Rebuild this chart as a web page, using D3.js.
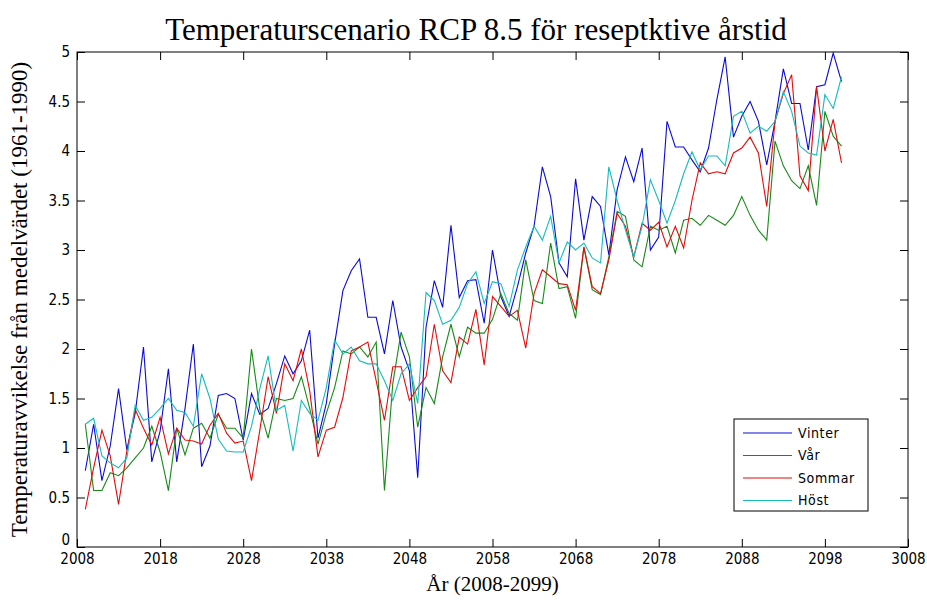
<!DOCTYPE html>
<html>
<head>
<meta charset="utf-8">
<script src="https://cdn.jsdelivr.net/npm/d3@7"></script>
<style>
  body { margin: 0; background: #fff; }
  svg { display: block; }
  .tick text, .legend text { font-family: "Liberation Sans Narrow", "DejaVu Sans Condensed", sans-serif; font-stretch: condensed; }
  .serif { font-family: "Liberation Serif", "Times New Roman", serif; }
</style>
</head>
<body>
<svg width="927" height="607"></svg>
<script>
// Data (one value per year, 2008-2099)

const years = d3.range(2008, 2100)

const vinter = [0.77, 1.24, 0.67, 1.02, 1.6, 0.98, 1.35, 2.02, 0.86, 1.17,
  1.8, 0.86, 1.4, 2.05, 0.81, 1.02, 1.53, 1.55, 1.5, 1.08,
  1.55, 1.34, 1.4, 1.65, 1.93, 1.75, 1.88, 2.19, 1.1, 1.45,
  2.05, 2.59, 2.79, 2.91, 2.32, 2.32, 1.95, 2.49, 2.02, 1.78,
  0.7, 2.22, 2.69, 2.42, 3.25, 2.52, 2.69, 2.7, 2.26, 3.0,
  2.53, 2.33, 2.63, 2.97, 3.24, 3.84, 3.54, 2.87, 2.73, 3.72,
  3.1, 3.54, 3.44, 2.95, 3.61, 3.94, 3.69, 4.03, 3.0, 3.13,
  4.3, 4.04, 4.04, 3.91, 3.79, 4.03, 4.52, 4.95, 4.14, 4.35,
  4.5, 4.3, 3.86, 4.3, 4.83, 4.48, 4.48, 4.01, 4.65, 4.67,
  4.99, 4.7]

const var_ = [1.24, 0.57, 0.57, 0.75, 0.72, 0.8, 0.9, 1.0, 1.22, 0.96,
  0.57, 1.2, 0.93, 1.2, 1.25, 1.1, 1.34, 1.2, 1.2, 1.1,
  2.0, 1.39, 1.1, 1.5, 1.48, 1.5, 1.72, 1.4, 1.04, 1.35,
  1.61, 1.98, 1.95, 2.02, 1.92, 2.07, 0.57, 1.65, 2.17, 1.92,
  1.21, 1.61, 1.45, 1.92, 2.25, 1.92, 2.22, 2.16, 2.16, 2.3,
  2.56, 2.36, 2.29, 2.9, 2.49, 2.46, 3.07, 2.61, 2.63, 2.31,
  3.03, 2.6, 2.55, 2.93, 3.39, 3.34, 2.9, 2.83, 3.24, 3.2,
  3.24, 2.97, 3.3, 3.32, 3.25, 3.35, 3.3, 3.25, 3.35, 3.54,
  3.35, 3.2, 3.1, 4.1, 3.85, 3.7, 3.62, 3.85, 3.45, 4.4,
  4.15, 4.05]

const sommar = [0.38, 0.8, 1.18, 0.92, 0.43, 0.97, 1.39, 1.2, 1.03, 1.31,
  0.94, 1.2, 1.08, 1.07, 1.04, 1.23, 1.35, 1.15, 1.05, 1.07,
  0.67, 1.18, 1.72, 1.35, 1.85, 1.68, 2.0, 1.58, 0.91, 1.18,
  1.21, 1.51, 1.98, 2.02, 2.07, 1.68, 1.28, 1.82, 1.82, 1.48,
  1.61, 1.72, 2.25, 1.78, 1.66, 2.12, 2.05, 2.4, 1.84, 2.53,
  2.43, 2.33, 2.39, 2.01, 2.56, 2.8, 2.73, 2.66, 2.65, 2.39,
  3.03, 2.63, 2.56, 2.9, 3.37, 3.24, 2.93, 3.27, 3.2, 3.28,
  3.03, 3.24, 3.02, 3.5, 3.88, 3.77, 3.79, 3.77, 3.98, 4.03,
  4.14, 3.98, 3.44, 4.3, 4.58, 4.77, 3.75, 3.6, 4.65, 4.0,
  4.32, 3.88]

const host = [1.24, 1.3, 0.92, 0.85, 0.8, 0.9, 1.43, 1.28, 1.31, 1.4,
  1.5, 1.38, 1.36, 1.22, 1.75, 1.5, 1.09, 0.97, 0.96, 0.96,
  1.22, 1.6, 1.93, 1.38, 1.43, 0.97, 1.48, 1.35, 1.28, 1.61,
  2.09, 1.95, 2.02, 1.88, 1.85, 1.85, 1.68, 1.48, 1.75, 1.85,
  1.45, 2.57, 2.49, 2.25, 2.29, 2.42, 2.66, 2.78, 2.46, 2.68,
  2.66, 2.43, 2.8, 3.03, 3.24, 3.1, 3.34, 2.87, 3.08, 3.0,
  3.07, 2.92, 2.87, 3.84, 3.5, 3.2, 2.93, 3.24, 3.71, 3.5,
  3.27, 3.5, 3.77, 3.99, 3.81, 3.95, 3.95, 3.85, 4.35, 4.4,
  4.18, 4.25, 4.2, 4.3, 4.6, 4.4, 4.05, 3.98, 3.96, 4.57,
  4.43, 4.75]

const seriesNames = ['Vinter', 'Vår', 'Sommar', 'Höst']
const seriesValues = [vinter, var_, sommar, host]
const seriesColors = ['#0a0ad8', '#178a17', '#e60b0b', '#14bcbc']

const xTickLabels = ['2008', '2018', '2028', '2038', '2048', '2058', '2068', '2078', '2088', '2098', '3008']
const yTicks = d3.range(0, 5.01, 0.5)

const title = 'Temperaturscenario RCP 8.5 för reseptktive årstid'
const xTitle = 'År (2008-2099)'
const yTitle = 'Temperaturavvikelse från medelvärdet (1961-1990)'

// Layout

const margin = {left: 77, right: 19, top: 52, bottom: 60}
const width = 927
const height = 607
const innerW = width - margin.left - margin.right
const innerH = height - margin.top - margin.bottom

const svg = d3.select('svg')

// x is the position index used by the plot (1..92), ticks every 10
const x = d3.scaleLinear().domain([0, 100]).range([margin.left, margin.left + innerW])
const y = d3.scaleLinear().domain([0, 5]).range([margin.top + innerH, margin.top])

const xTickValues = d3.range(0, 101, 10)

// Axes (MATLAB style: ticks inside, box on)

svg.append('g')
    .attr('transform', `translate(0, ${margin.top + innerH})`)
    .call(d3.axisBottom(x).tickValues(xTickValues).tickSizeInner(-8).tickSizeOuter(0).tickPadding(6)
      .tickFormat((d, i) => xTickLabels[i]))
    .call(g => g.selectAll('text').attr('font-size', 15).attr('fill', '#000'))

svg.append('g')
    .attr('transform', `translate(0, ${margin.top})`)
    .call(d3.axisTop(x).tickValues(xTickValues).tickSizeInner(-8).tickSizeOuter(0).tickFormat(''))

svg.append('g')
    .attr('transform', `translate(${margin.left}, 0)`)
    .call(d3.axisLeft(y).tickValues(yTicks).tickSizeInner(-8).tickSizeOuter(0).tickPadding(7)
      .tickFormat(d3.format('~g')))
    .call(g => g.selectAll('text').attr('font-size', 15).attr('fill', '#000'))
    // the "0" sits just above the first year label, as in the original
    .call(g => g.selectAll('.tick').filter(d => d === 0).select('text').attr('dy', '-0.15em'))

svg.append('g')
    .attr('transform', `translate(${margin.left + innerW}, 0)`)
    .call(d3.axisRight(y).tickValues(yTicks).tickSizeInner(-8).tickSizeOuter(0).tickFormat(''))

svg.selectAll('.domain').remove()
svg.selectAll('.tick line').attr('stroke', '#000')

svg.append('rect')
    .attr('x', margin.left)
    .attr('y', margin.top)
    .attr('width', innerW)
    .attr('height', innerH)
    .attr('fill', 'none')
    .attr('stroke', '#000')

// Lines

const line = d3.line()
    .x((d, i) => x(i + 1))
    .y(d => y(d))

svg.append('g').selectAll('path')
  .data(seriesValues)
  .join('path')
    .attr('d', line)
    .attr('fill', 'none')
    .attr('stroke', (d, i) => seriesColors[i])
    .attr('stroke-width', 1.1)

// Titles

svg.append('text')
    .attr('class', 'serif')
    .attr('x', 476)
    .attr('y', 40)
    .attr('text-anchor', 'middle')
    .attr('font-size', 31)
    .text(title)

svg.append('text')
    .attr('class', 'serif')
    .attr('x', margin.left + innerW / 2)
    .attr('y', 591)
    .attr('text-anchor', 'middle')
    .attr('font-size', 21)
    .text(xTitle)

svg.append('text')
    .attr('class', 'serif')
    .attr('transform', `translate(27, ${margin.top + innerH / 2}) rotate(-90)`)
    .attr('text-anchor', 'middle')
    .attr('font-size', 23)
    .text(yTitle)

// Legend

const legend = svg.append('g')
    .attr('class', 'legend')
    .attr('transform', 'translate(734, 419)')

legend.append('rect')
    .attr('width', 134)
    .attr('height', 92)
    .attr('fill', '#fff')
    .attr('stroke', '#000')

const entry = legend.selectAll('g.entry')
  .data(seriesNames)
  .join('g')
    .attr('class', 'entry')
    .attr('transform', (d, i) => `translate(0, ${14 + i * 22.5})`)

entry.append('line')
    .attr('x1', 9)
    .attr('x2', 58)
    .attr('stroke', (d, i) => seriesColors[i])
    .attr('stroke-width', 1.1)

entry.append('text')
    .attr('x', 64)
    .attr('dy', '0.35em')
    .attr('font-size', 14)
    .attr('letter-spacing', 0.6)
    .text(d => d)
</script>
</body>
</html>
